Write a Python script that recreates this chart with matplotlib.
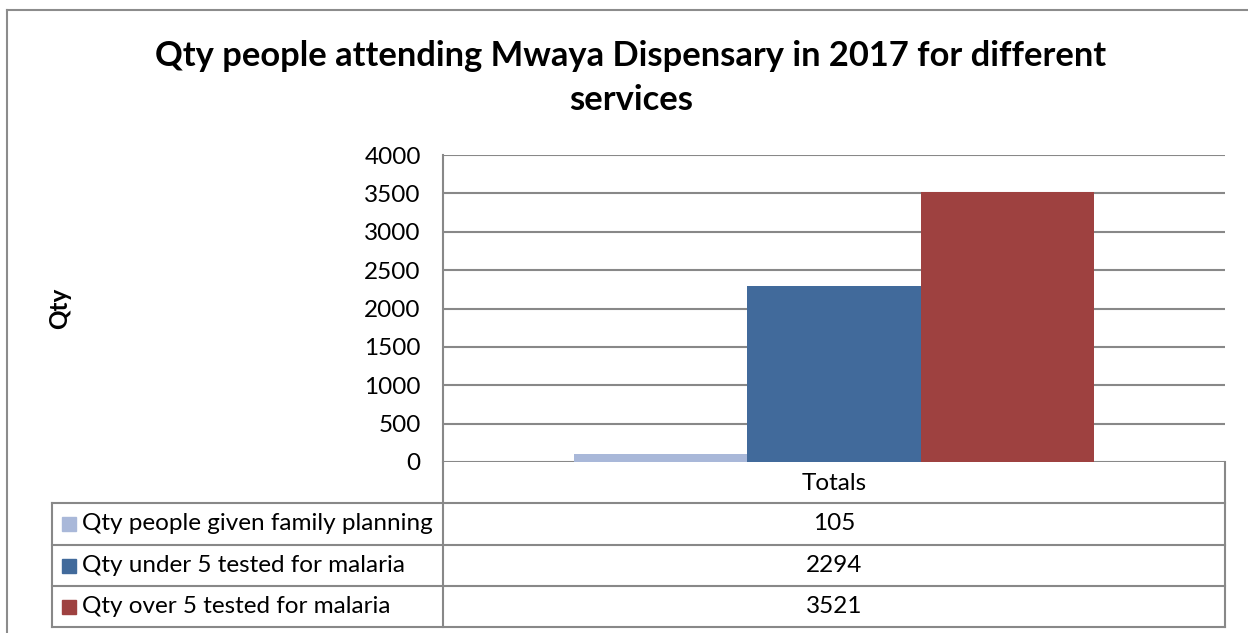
import numpy as np
import matplotlib
matplotlib.use("Agg")
import matplotlib.pyplot as plt
from matplotlib.lines import Line2D
from matplotlib.patches import Rectangle

plt.rcParams['font.family'] = ['Lato', 'DejaVu Sans']

category = 'Totals'
series = ['Qty people given family planning',
          'Qty under 5 tested for malaria',
          'Qty over 5 tested for malaria']
values = [105, 2294, 3521]
colors = ['#A9B8D9', '#416A9B', '#9E4140']
yticks = np.arange(0, 4001, 500)

W, H = 1248, 633
fig = plt.figure(figsize=(W / 100, H / 100), dpi=100)
grid_col = '#888888'
fs = 17.5

# plot area in pixels: x 443..1225, y 155..462
px = lambda x: x / W
py = lambda y: 1 - y / H
ax = fig.add_axes([px(443), py(462), px(1225) - px(443), py(155) - py(462)])

n = len(values)
bw = 0.222
offsets = (np.arange(n) - (n - 1) / 2) * bw
for off, v, c in zip(offsets, values, colors):
    ax.bar(off, v, width=bw, color=c, zorder=3)

ax.set_xlim(-0.5, 0.5)
ax.set_ylim(0, 4000)
ax.set_yticks(yticks)
ax.set_yticklabels([str(t) for t in yticks], fontsize=fs)
ax.set_xticks([])
ax.tick_params(axis='y', length=0, pad=16)
ax.grid(axis='y', color=grid_col, linewidth=1.5, zorder=0)
for s in ['top', 'right', 'bottom']:
    ax.spines[s].set_visible(False)
ax.spines['left'].set_color(grid_col)
ax.spines['left'].set_linewidth(1.5)

# axis title sits far left, next to the chart border
fig.text(px(60), py(308), 'Qty', rotation=90, ha='center', va='center',
         fontsize=fs, fontweight='bold')

fig.text(px(631), py(78), 'Qty people attending Mwaya Dispensary in 2017 for different\nservices',
         ha='center', va='center', fontsize=24.8, fontweight='bold', linespacing=1.5)

# outer chart border
fig.add_artist(Line2D([px(7), px(7)], [py(10), 0], color='#8c8c8c', lw=1.5))
fig.add_artist(Line2D([px(7), 1], [py(10), py(10)], color='#8c8c8c', lw=1.5))

# data table
rows_y = [462, 503, 545, 586, 627]
left, mid, right = 52, 443, 1225
lw = 1.5
fig.add_artist(Line2D([px(mid), px(mid)], [py(462), py(627)], color=grid_col, lw=lw))
fig.add_artist(Line2D([px(right), px(right)], [py(462), py(627)], color=grid_col, lw=lw))
fig.add_artist(Line2D([px(left), px(left)], [py(503), py(627)], color=grid_col, lw=lw))
fig.add_artist(Line2D([px(left), px(right)], [py(503), py(503)], color=grid_col, lw=lw))
for y in rows_y[2:]:
    fig.add_artist(Line2D([px(left), px(right)], [py(y), py(y)], color=grid_col, lw=lw))

cx = px((mid + right) / 2)
fig.text(cx, py(483), category, ha='center', va='center', fontsize=fs)
for i, (name, v, c) in enumerate(zip(series, values, colors)):
    yc = (rows_y[i + 1] + rows_y[i + 2]) / 2
    fig.add_artist(Rectangle((px(62), py(yc + 7)), px(14), py(yc - 7) - py(yc + 7),
                             color=c, transform=fig.transFigure))
    fig.text(px(82), py(yc), name, ha='left', va='center', fontsize=fs)
    fig.text(cx, py(yc), str(v), ha='center', va='center', fontsize=fs)

fig.savefig('out.png', dpi=100, facecolor='white')
